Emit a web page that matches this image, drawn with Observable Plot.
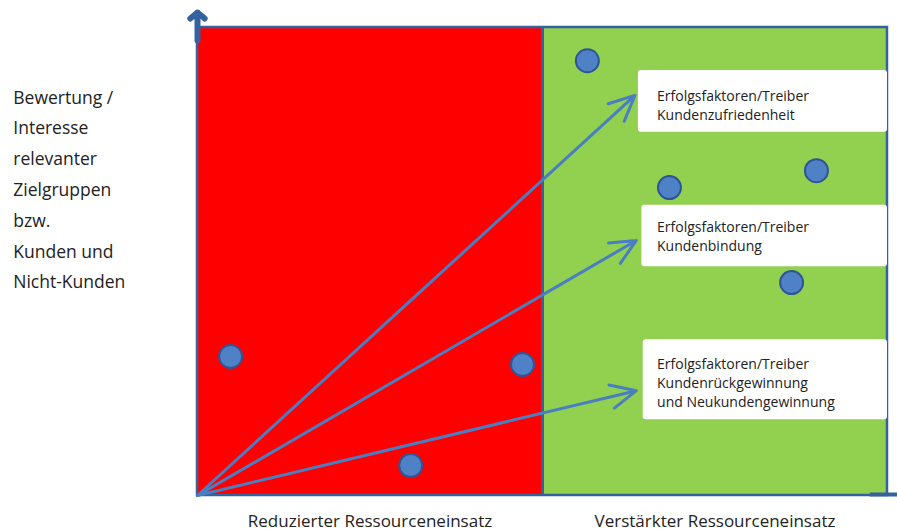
<!DOCTYPE html>
<html>
<head>
<meta charset="utf-8">
<script src="https://cdn.jsdelivr.net/npm/d3@7"></script>
<script src="https://cdn.jsdelivr.net/npm/@observablehq/plot@0.6"></script>
<style>
  html, body { margin: 0; padding: 0; background: #fff; }
  #chart { width: 897px; height: 531px; overflow: hidden; }
</style>
</head>
<body>
<div id="chart"></div>
<script>
// Zones (x in 0..100 resource scale, y in 0..100 rating scale)
const zones = [
  {name: "Reduzierter Ressourceneinsatz", x1: 0, x2: 50, color: "#ff0000"},
  {name: "Verstärkter Ressourceneinsatz", x1: 50, x2: 100, color: "#92d050"}
];
// Blue dots
const dotX = [56.5, 68.4, 89.7, 86.1, 4.8, 47.1, 30.9];
const dotY = [92.9, 65.8, 69.4, 45.5, 29.7, 28.0, 6.4];
// Arrows from origin towards the boxes
const arrowEndX = [63.4, 63.6, 63.6];
const arrowEndY = [85.5, 54.5, 22.4];
// Text boxes
const boxX1 = [63.9, 64.4, 64.6];
const boxX2 = [100, 100, 100];
const boxY1 = [77.6, 48.9, 16.2];
const boxY2 = [90.8, 62.0, 33.3];
const boxTextY = [87.2, 59.2, 29.9];
const boxTextX = 66.6;
const boxLabels = [
  "Erfolgsfaktoren/Treiber\nKundenzufriedenheit",
  "Erfolgsfaktoren/Treiber\nKundenbindung",
  "Erfolgsfaktoren/Treiber\nKundenrückgewinnung\nund Neukundengewinnung"
];
const yLabel = "Bewertung /\nInteresse\nrelevanter\nZielgruppen\nbzw.\nKunden und\nNicht-Kunden";
const yLabelPos = {x: -26.7, y: 88.4};
const xLabelY = -4.25;

const dots = dotX.map((x, i) => ({x, y: dotY[i]}));
const arrows = arrowEndX.map((x, i) => ({x1: 0, y1: 0, x2: x, y2: arrowEndY[i]}));
const boxes = boxLabels.map((t, i) => ({x1: boxX1[i], x2: boxX2[i], y1: boxY1[i], y2: boxY2[i], tx: boxTextX, ty: boxTextY[i], t}));

const border = "#34629e";
const blue = "#4a7ec2";
const font = "'Open Sans', sans-serif";

const chart = Plot.plot({
  width: 897,
  height: 531,
  marginLeft: 197,
  marginRight: 10,
  marginTop: 27,
  marginBottom: 36,
  x: {domain: [0, 100], axis: null},
  y: {domain: [0, 100], axis: null},
  style: {fontFamily: font, background: "white", overflow: "visible"},
  marks: [
    Plot.rect(zones, {x1: "x1", x2: "x2", y1: 0, y2: 100, fill: "color"}),
    Plot.rect([0], {x1: 0, x2: 100, y1: 0, y2: 100, fill: "none", stroke: border, strokeWidth: 2.5}),
    Plot.ruleX([50], {y1: 0, y2: 100, stroke: border, strokeWidth: 3}),
    // axis arrows
    Plot.arrow([0], {x1: 0, y1: 97.2, x2: 0, y2: 103.2, stroke: border, strokeWidth: 6, headLength: 6, headAngle: 100}),
    Plot.ruleY([0.2], {x1: 97.5, x2: 103, stroke: border, strokeWidth: 4}),
    // text boxes
    Plot.rect(boxes, {x1: "x1", x2: "x2", y1: "y1", y2: "y2", fill: "white", rx: 3}),
    Plot.text(boxes, {x: "tx", y: "ty", text: "t", textAnchor: "start", lineAnchor: "top", lineHeight: 1.36, fontSize: 14, fill: "#222"}),
    // arrows
    Plot.arrow(arrows, {x1: "x1", y1: "y1", x2: "x2", y2: "y2", stroke: blue, strokeWidth: 3, headLength: 14, headAngle: 50}),
    // dots
    Plot.dot(dots, {x: "x", y: "y", r: 11.5, fill: "#4f81c6", stroke: "#2f5597", strokeWidth: 2}),
    // labels
    Plot.text([yLabel], {x: yLabelPos.x, y: yLabelPos.y, text: d => d, textAnchor: "start", lineAnchor: "top", lineHeight: 1.76, fontSize: 17.5, fill: "#222"}),
    Plot.text(zones, {x: d => (d.x1 + d.x2) / 2, y: xLabelY, text: "name", lineAnchor: "top", fontSize: 17, fill: "#222"})
  ]
});
document.getElementById("chart").appendChild(chart);
</script>
</body>
</html>
